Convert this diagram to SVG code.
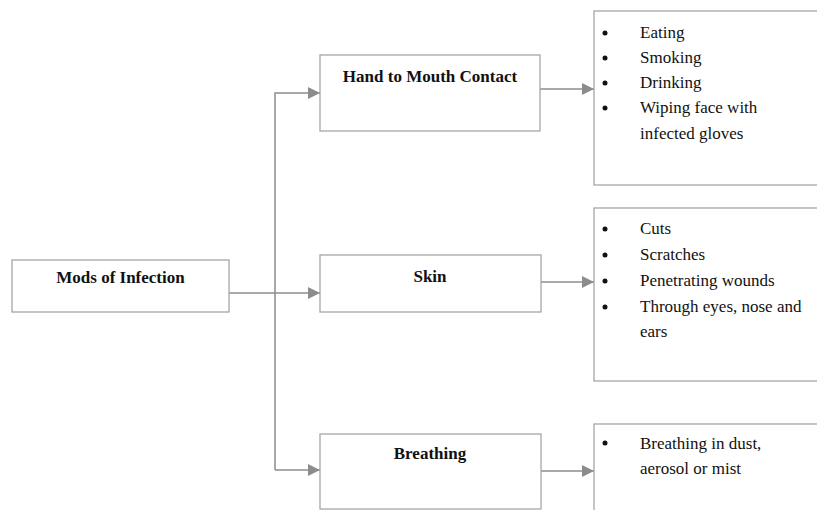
<svg xmlns="http://www.w3.org/2000/svg" width="817" height="510" viewBox="0 0 817 510">
<style>
.box{fill:#fff;stroke:#a6a6a6;stroke-width:1.3}
.lbl{font-family:'Liberation Serif','Times New Roman',Times,serif;font-weight:bold;font-size:17px;fill:#111;text-anchor:middle}
.txt{font-family:'Liberation Serif','Times New Roman',Times,serif;font-size:17px;fill:#111}
.conn{fill:none;stroke:#8c8c8c;stroke-width:1.5}
.dot{fill:#111}
</style>
<defs>
<marker id="ah" markerUnits="userSpaceOnUse" markerWidth="13" markerHeight="13" refX="12" refY="6" orient="auto">
<path d="M0,0 L12,6 L0,12 Z" fill="#8c8c8c"/>
</marker>
</defs>
<rect width="817" height="510" fill="#fff"/>
<g id="connectors">
<path class="conn" d="M229,293 L320,293" marker-end="url(#ah)"/>
<path class="conn" d="M275,470 L275,93 L320,93" marker-end="url(#ah)"/>
<path class="conn" d="M275,470 L320,470" marker-end="url(#ah)"/>
<path class="conn" d="M540,89 L594,89" marker-end="url(#ah)"/>
<path class="conn" d="M541,282 L594,282" marker-end="url(#ah)"/>
<path class="conn" d="M541,471 L594,471" marker-end="url(#ah)"/>
</g>
<g id="mods">
<rect class="box" x="12" y="260" width="217" height="52"/>
<text class="lbl" x="120.5" y="283">Mods of Infection</text>
</g>
<g id="hand">
<rect class="box" x="320" y="55" width="220" height="76"/>
<text class="lbl" x="430" y="82">Hand to Mouth Contact</text>
</g>
<g id="skin">
<rect class="box" x="320" y="255" width="221" height="57"/>
<text class="lbl" x="430" y="282">Skin</text>
</g>
<g id="breathing">
<rect class="box" x="320" y="434" width="221" height="75"/>
<text class="lbl" x="430" y="459">Breathing</text>
</g>
<g id="list-hand">
<rect class="box" x="594" y="11" width="230" height="174"/>
<circle class="dot" cx="605" cy="33" r="2.5"/>
<circle class="dot" cx="605" cy="58" r="2.5"/>
<circle class="dot" cx="605" cy="83" r="2.5"/>
<circle class="dot" cx="605" cy="108" r="2.5"/>
<text class="txt" x="640" y="38">Eating</text>
<text class="txt" x="640" y="63">Smoking</text>
<text class="txt" x="640" y="88">Drinking</text>
<text class="txt" x="640" y="113">Wiping face with</text>
<text class="txt" x="640" y="139">infected gloves</text>
</g>
<g id="list-skin">
<rect class="box" x="594" y="208" width="230" height="173"/>
<circle class="dot" cx="605" cy="229" r="2.5"/>
<circle class="dot" cx="605" cy="255" r="2.5"/>
<circle class="dot" cx="605" cy="281" r="2.5"/>
<circle class="dot" cx="605" cy="307" r="2.5"/>
<text class="txt" x="640" y="234">Cuts</text>
<text class="txt" x="640" y="260">Scratches</text>
<text class="txt" x="640" y="286">Penetrating wounds</text>
<text class="txt" x="640" y="312">Through eyes, nose and</text>
<text class="txt" x="640" y="337">ears</text>
</g>
<g id="list-breathing">
<rect class="box" x="594" y="424" width="230" height="100"/>
<circle class="dot" cx="605" cy="443" r="2.5"/>
<text class="txt" x="640" y="449">Breathing in dust,</text>
<text class="txt" x="640" y="474">aerosol or mist</text>
</g>
</svg>
